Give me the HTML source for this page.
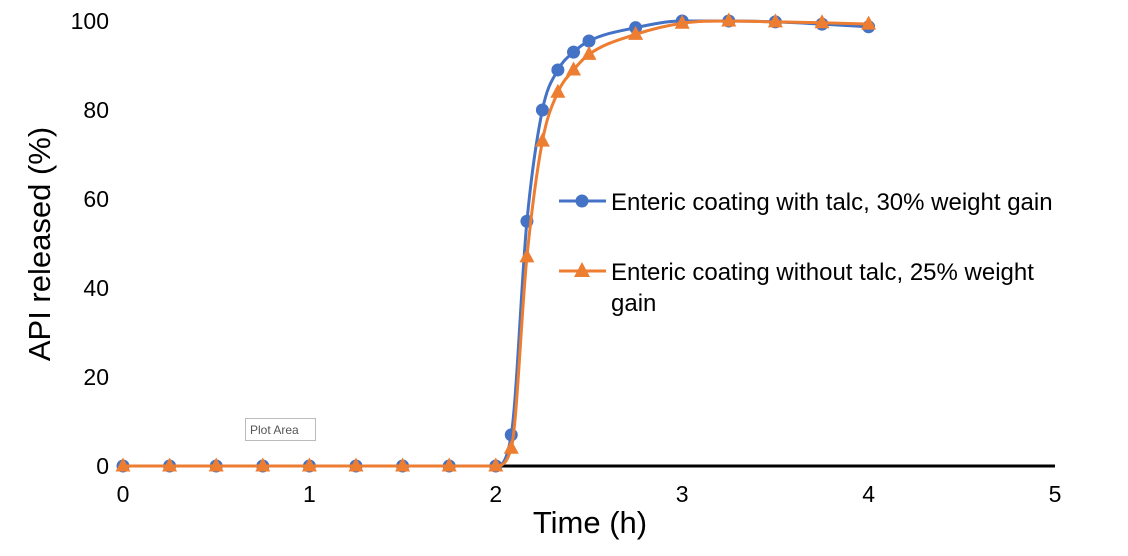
<!DOCTYPE html>
<html><head><meta charset="utf-8"><style>
body{margin:0;background:#fff;font-family:"Liberation Sans",Arial,sans-serif}
svg{display:block}
</style></head><body>
<svg id="chart" width="1128" height="556" font-family="Liberation Sans, Arial, sans-serif">
<g id="yticks"></g>
<g id="xticks"></g>
<line x1="123" y1="466" x2="1055" y2="466" stroke="#000" stroke-width="3"/>
<g id="series"></g>
<text x="590" y="533" font-size="31" text-anchor="middle">Time (h)</text>
<text transform="translate(50,244) rotate(-90)" font-size="31" text-anchor="middle">API released (%)</text>
<g>
<g>
<line x1="559" y1="201" x2="606" y2="201" stroke="#4472C4" stroke-width="3"/>
<circle cx="582" cy="201" r="6.5" fill="#4472C4"/>
<text x="611" y="210" font-size="24">Enteric coating with talc, 30% weight gain</text>
</g>
<g>
<line x1="559" y1="271" x2="606" y2="271" stroke="#ED7D31" stroke-width="3"/>
<polygon points="582,262 590,277 574,277" fill="#ED7D31"/>
<text x="611" y="280" font-size="24">Enteric coating without talc, 25% weight</text>
<text x="611" y="311" font-size="24">gain</text>
</g>
</g>
<g>
<rect x="245.5" y="418.5" width="70" height="22" fill="#fff" stroke="#bbb"/>
<text x="250" y="434" font-size="12" fill="#555">Plot Area</text>
</g>
</svg>
<script>
const times=[0,0.25,0.5,0.75,1,1.25,1.5,1.75,2,2.083,2.167,2.25,2.333,2.417,2.5,2.75,3,3.25,3.5,3.75,4];
const talcValues=[0,0,0,0,0,0,0,0,0,7,55,80,89,93,95.5,98.5,100,100,99.8,99.3,98.7];
const noTalcValues=[0,0,0,0,0,0,0,0,0,4,47,73,84,89,92.5,97,99.5,100,99.8,99.6,99.3];
const yTickLabels=[0,20,40,60,80,100];
const xTickLabels=[0,1,2,3,4,5];
const NS="http://www.w3.org/2000/svg";
const xs=v=>123+v*186.4, ys=v=>466-v*4.45;
const yt=document.getElementById('yticks');
yTickLabels.forEach(v=>{const t=document.createElementNS(NS,'text');


t.setAttribute('x',109);t.setAttribute('y',ys(v)+8);t.setAttribute('font-size','23');t.setAttribute('text-anchor','end');t.textContent=v;yt.appendChild(t);});
const xt=document.getElementById('xticks');
xTickLabels.forEach(v=>{const t=document.createElementNS(NS,'text');


t.setAttribute('x',xs(v));t.setAttribute('y',502);t.setAttribute('font-size','23');t.setAttribute('text-anchor','middle');t.textContent=v;xt.appendChild(t);});
function monotone(pts){const n=pts.length,dx=[],sl=[],m=[];
for(let i=0;i<n-1;i++){dx[i]=pts[i+1][0]-pts[i][0];sl[i]=(pts[i+1][1]-pts[i][1])/dx[i];}
m[0]=sl[0];m[n-1]=sl[n-2];
for(let i=1;i<n-1;i++){m[i]=(sl[i-1]*sl[i]<=0)?0:(sl[i-1]+sl[i])/2;}
for(let i=0;i<n-1;i++){if(sl[i]===0){m[i]=0;m[i+1]=0;continue;}const a=m[i]/sl[i],b=m[i+1]/sl[i],s=a*a+b*b;if(s>9){const t=3/Math.sqrt(s);m[i]=t*a*sl[i];m[i+1]=t*b*sl[i];}}
let d=`M${pts[0][0]},${pts[0][1]}`;
for(let i=0;i<n-1;i++){const h=dx[i]/3;d+=` C${pts[i][0]+h},${pts[i][1]+m[i]*h} ${pts[i+1][0]-h},${pts[i+1][1]-m[i+1]*h} ${pts[i+1][0]},${pts[i+1][1]}`;}return d;}
const sg=document.getElementById('series');
function draw(vals,color,shape,name){const pts=times.map((t,i)=>[xs(t),ys(vals[i])]);
const p=document.createElementNS(NS,'path');


p.setAttribute('d',monotone(pts));p.setAttribute('fill','none');p.setAttribute('stroke',color);p.setAttribute('stroke-width','3');sg.appendChild(p);
pts.forEach(([x,y])=>{let m;if(shape==='c'){m=document.createElementNS(NS,'circle');m.setAttribute('cx',x);m.setAttribute('cy',y);m.setAttribute('r',6.5);}else{m=document.createElementNS(NS,'polygon');m.setAttribute('points',`${x},${y-8.5} ${x+7.5},${y+5.5} ${x-7.5},${y+5.5}`);}


m.setAttribute('fill',color);sg.appendChild(m);});}
draw(talcValues,'#4472C4','c','talc-series');
draw(noTalcValues,'#ED7D31','t','no-talc-series');
</script>
</body></html>
